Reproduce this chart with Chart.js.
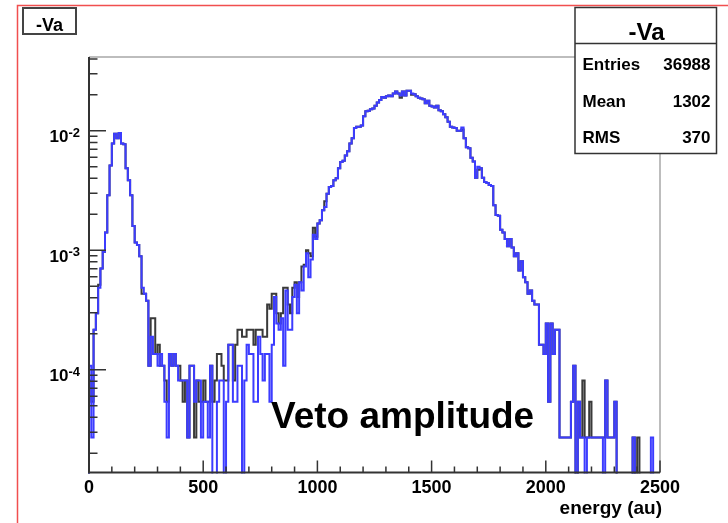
<!DOCTYPE html>
<html>
<head>
<meta charset="utf-8">
<title>-Va</title>
<script src="https://cdn.jsdelivr.net/npm/chart.js@4.4.1/dist/chart.umd.min.js"></script>
<style>
  html, body { margin: 0; padding: 0; background: #fff; }
  #wrap { width: 728px; height: 523px; }
</style>
</head>
<body>
<div id="wrap"><canvas id="vetoChart" width="728" height="523"></canvas></div>
<script>
'use strict';

// ===== 데이터 =====
const ENTRIES = 36988;
const BIN_WIDTH = 10;
const X_MIN = 0;
const X_MAX = 2500;
const Y_MIN = 1.38e-5;
const Y_MAX = 0.0415;

const histTitle = '-Va';
const statLabels = ['Entries', 'Mean', 'RMS'];
const statValues = ['36988', '1302', '370'];
const xTickValues = [0, 500, 1000, 1500, 2000, 2500];
const yDecades = [-4, -3, -2];
const xAxisTitle = 'energy (au)';
const noteText = 'Veto amplitude';

// counts per 10 au bin (blue histogram, drawn on top)
const blueCounts = [
  4, 1, 8, 11, 18, 26, 36, 52, 107, 190,
  290, 350, 320, 355, 290, 285, 180, 143, 107, 59,
  43, 41, 33, 18, 16, 14, 4, 7, 5, 5,
  4, 5, 4, 2, 1, 5, 4, 5, 4, 3,
  3, 3, 3, 1, 4, 4, 2, 3, 3, 1,
  2, 2, 1, 4, 0, 0, 2, 3, 3, 0,
  2, 6, 6, 2, 2, 4, 4, 0, 3, 6,
  5, 5, 2, 2, 7, 5, 3, 5, 5, 2,
  6, 15, 9, 8, 10, 4, 17, 8, 8, 15,
  19, 11, 20, 17, 27, 35, 22, 31, 50, 46,
  62, 66, 80, 85, 110, 125, 128, 143, 148, 180,
  203, 208, 230, 250, 290, 320, 390, 400, 400, 410,
  490, 540, 545, 560, 570, 600, 640, 670, 710, 700,
  720, 730, 720, 760, 790, 760, 730, 790, 730, 800,
  800, 760, 750, 720, 700, 690, 680, 630, 660, 600,
  590, 580, 600, 550, 540, 510, 480, 440, 400, 395,
  390, 370, 370, 395, 320, 270, 265, 220, 205, 150,
  185, 180, 150, 138, 135, 130, 128, 88, 73, 72,
  55, 52, 46, 40, 46, 39, 33, 35, 25, 30,
  22, 20, 16, 17, 14, 13, 13, 6, 6, 5,
  9, 2, 9, 5, 8, 8, 1, 1, 1, 1,
  1, 2, 4, 0, 2, 1, 1, 0, 1, 1,
  1, 1, 1, 1, 1, 0, 3, 1, 1, 1,
  2, 0, 0, 0, 0, 0, 0, 0, 1, 0,
  0, 0, 0, 0, 0, 0, 1, 0, 0, 0,
];

// counts per 10 au bin (black histogram, underneath)
const blackCounts = [
  3, 2, 8, 11, 19, 26, 36, 52, 107, 190,
  290, 350, 320, 355, 290, 285, 180, 143, 107, 59,
  43, 41, 33, 16, 16, 14, 4, 10, 10, 5,
  6, 4, 4, 3, 2, 5, 4, 5, 4, 4,
  3, 2, 3, 1, 4, 4, 1, 3, 2, 2,
  3, 2, 2, 4, 2, 3, 5, 5, 4, 3,
  3, 6, 6, 3, 6, 8, 8, 7, 7, 8,
  8, 8, 6, 8, 8, 8, 7, 7, 13, 12,
  16, 16, 11, 9, 11, 18, 18, 13, 11, 18,
  20, 15, 20, 27, 28, 37, 35, 33, 57, 48,
  62, 66, 80, 95, 110, 125, 128, 143, 148, 180,
  203, 208, 230, 250, 290, 320, 390, 400, 400, 410,
  490, 540, 545, 560, 570, 600, 640, 670, 710, 700,
  720, 730, 720, 760, 790, 760, 700, 790, 730, 800,
  800, 740, 750, 720, 700, 690, 680, 630, 660, 600,
  590, 580, 600, 550, 540, 510, 480, 440, 400, 395,
  390, 370, 370, 380, 320, 270, 265, 220, 205, 150,
  175, 180, 150, 138, 135, 130, 128, 88, 73, 72,
  55, 52, 46, 40, 46, 39, 33, 35, 25, 30,
  22, 20, 16, 17, 14, 13, 13, 6, 6, 5,
  9, 2, 9, 5, 8, 8, 1, 1, 1, 1,
  1, 2, 4, 0, 2, 1, 3, 1, 1, 2,
  1, 1, 1, 1, 1, 1, 3, 1, 1, 1,
  2, 0, 0, 0, 0, 0, 0, 0, 1, 0,
  1, 0, 0, 0, 0, 0, 0, 0, 0, 0,
];

// ===== 레이아웃 =====
const W = 728;
const H = 523;
const FRAME = { left: 89, right: 660, top: 57, bottom: 472.5 };
const FONT = "'Liberation Sans', Arial, Helvetica, sans-serif";

// 빈 값 -> 스텝 포인트 (0 은 축 아래로 떨어뜨려 잘리게)
function toSteps(counts) {
  const floor = 1e-7;
  const pts = [{ x: X_MIN, y: floor }];
  counts.forEach((c, i) => {
    pts.push({ x: X_MIN + i * BIN_WIDTH, y: c > 0 ? c / ENTRIES : floor });
  });
  pts.push({ x: X_MIN + counts.length * BIN_WIDTH, y: floor });
  return pts;
}

function font(size) {
  return `bold ${size}px ${FONT}`;
}

/**
 * ROOT 스타일 축, 눈금, 박스
 */
const rootStyle = {
  id: 'rootStyle',
  beforeDraw(chart) {
    const { ctx } = chart;
    ctx.save();
    ctx.fillStyle = '#fff';
    ctx.fillRect(0, 0, W, H);
    // pad border (red)
    ctx.strokeStyle = 'rgba(240,60,60,0.9)';
    ctx.lineWidth = 1.5;
    ctx.beginPath();
    ctx.moveTo(17.5, H);
    ctx.lineTo(17.5, 5.5);
    ctx.lineTo(W, 5.5);
    ctx.stroke();
    ctx.restore();
  },
  afterDatasetsDraw(chart) {
    const { ctx, chartArea: a, scales } = chart;
    const x = scales.x;
    const y = scales.y;
    ctx.save();

    // frame top / right
    ctx.strokeStyle = '#a8a8a8';
    ctx.lineWidth = 1.5;
    ctx.beginPath();
    ctx.moveTo(a.left, a.top);
    ctx.lineTo(a.right, a.top);
    ctx.lineTo(a.right, a.bottom);
    ctx.stroke();

    // axes
    ctx.strokeStyle = '#333';
    ctx.lineWidth = 2;
    ctx.beginPath();
    ctx.moveTo(a.left, a.top);
    ctx.lineTo(a.left, a.bottom);
    ctx.lineTo(a.right, a.bottom);
    ctx.stroke();

    // ticks
    ctx.lineWidth = 1.5;
    ctx.beginPath();
    for (let v = X_MIN; v <= X_MAX; v += 100) {
      const px = x.getPixelForValue(v);
      const len = v % 500 === 0 ? 12 : 6;
      ctx.moveTo(px, a.bottom);
      ctx.lineTo(px, a.bottom - len);
    }
    for (let d = -5; d <= -1; d++) {
      for (let k = 1; k <= 9; k++) {
        const v = k * Math.pow(10, d);
        if (v < Y_MIN || v > Y_MAX) continue;
        const py = y.getPixelForValue(v);
        ctx.moveTo(a.left, py);
        ctx.lineTo(a.left + (k === 1 ? 17 : 8.5), py);
      }
    }
    ctx.stroke();

    // tick labels
    ctx.fillStyle = '#000';
    ctx.textBaseline = 'alphabetic';
    ctx.font = font(18);
    ctx.textAlign = 'center';
    xTickValues.forEach(v => {
      ctx.fillText(String(v), x.getPixelForValue(v), 493);
    });
    yDecades.forEach(d => {
      const py = y.getPixelForValue(Math.pow(10, d));
      ctx.font = font(17);
      ctx.textAlign = 'right';
      ctx.fillText('10', 68.5, py + 11.5);
      ctx.font = font(13);
      ctx.textAlign = 'left';
      ctx.fillText(String(d), 68.5, py + 6);
    });

    // axis title
    ctx.font = font(19);
    ctx.textAlign = 'right';
    ctx.fillText(xAxisTitle, 662, 514);

    ctx.restore();
  },
  afterDraw(chart) {
    const { ctx } = chart;
    ctx.save();
    ctx.fillStyle = '#000';

    // annotation
    ctx.font = font(37);
    ctx.textAlign = 'left';
    ctx.fillText(noteText, 271, 428);

    // title box
    ctx.fillStyle = '#fff';
    ctx.fillRect(23, 8, 53, 26);
    ctx.strokeStyle = '#444';
    ctx.lineWidth = 2;
    ctx.strokeRect(23, 8, 53, 26);
    ctx.fillStyle = '#000';
    ctx.font = font(18);
    ctx.textAlign = 'center';
    ctx.fillText(histTitle, 49.5, 30.5);

    // stats box
    const bx = 575, by = 7.5, bw = 141.5, bh = 146;
    ctx.fillStyle = '#fff';
    ctx.fillRect(bx, by, bw, bh);
    ctx.strokeStyle = '#333';
    ctx.lineWidth = 1.5;
    ctx.strokeRect(bx, by, bw, bh);
    ctx.beginPath();
    ctx.moveTo(bx, 43.5);
    ctx.lineTo(bx + bw, 43.5);
    ctx.stroke();
    ctx.fillStyle = '#000';
    ctx.font = font(24);
    ctx.textAlign = 'center';
    ctx.fillText(histTitle, 646.5, 39.5);
    ctx.font = font(17);
    const rowBase = [70, 106.5, 143];
    statLabels.forEach((lab, i) => {
      ctx.textAlign = 'left';
      ctx.fillText(lab, 582.5, rowBase[i]);
      ctx.textAlign = 'right';
      ctx.fillText(statValues[i], 710.5, rowBase[i]);
    });

    ctx.restore();
  },
};

function buildChart() {
  const ctx = document.getElementById('vetoChart').getContext('2d');
  const lineStyle = {
    borderWidth: 2,
    stepped: true,
    pointRadius: 0,
    fill: false,
    tension: 0,
    borderJoinStyle: 'miter',
    borderCapStyle: 'butt',
    clip: 1,
  };

  return new Chart(ctx, {
    type: 'line',
    plugins: [rootStyle],
    data: {
      datasets: [
        { label: 'blue', data: toSteps(blueCounts), borderColor: '#3c3cff', ...lineStyle },
        { label: 'black', data: toSteps(blackCounts), borderColor: '#3a3a3a', ...lineStyle },
      ],
    },
    options: {
      responsive: false,
      animation: false,
      devicePixelRatio: 1,
      layout: { padding: { left: 0, right: W - FRAME.right, top: FRAME.top, bottom: 0 } },
      plugins: {
        legend: { display: false },
        tooltip: { enabled: false },
      },
      scales: {
        x: {
          type: 'linear',
          min: X_MIN,
          max: X_MAX,
          ticks: { display: false },
          grid: { display: false },
          border: { display: false },
          afterFit(s) { s.height = H - FRAME.bottom; },
        },
        y: {
          type: 'logarithmic',
          min: Y_MIN,
          max: Y_MAX,
          ticks: { display: false },
          grid: { display: false },
          border: { display: false },
          afterFit(s) { s.width = FRAME.left; },
        },
      },
    },
  });
}

buildChart();
</script>
</body>
</html>
